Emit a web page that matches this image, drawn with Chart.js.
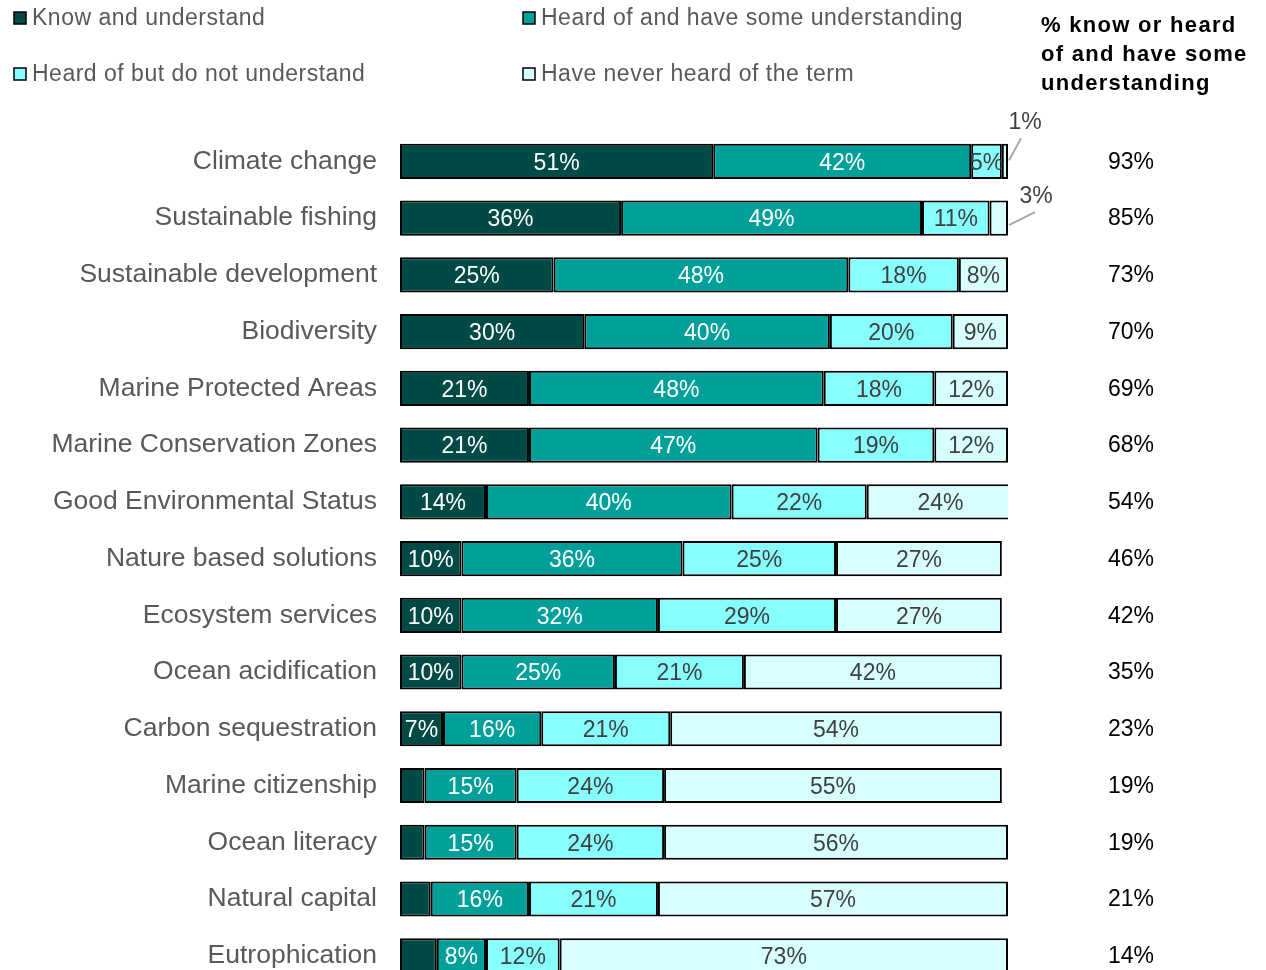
<!DOCTYPE html>
<html>
<head>
<meta charset="utf-8">
<script src="https://cdn.jsdelivr.net/npm/chart.js@4/dist/chart.umd.min.js"></script>
<style>
  html, body { margin: 0; padding: 0; background: #fff; overflow: hidden; }
</style>
</head>
<body>
<canvas id="awareness" width="1266" height="1015"></canvas>
<script>
const categories = [
    'Climate change', 'Sustainable fishing', 'Sustainable development', 'Biodiversity',
    'Marine Protected Areas', 'Marine Conservation Zones', 'Good Environmental Status',
    'Nature based solutions', 'Ecosystem services', 'Ocean acidification',
    'Carbon sequestration', 'Marine citizenship', 'Ocean literacy', 'Natural capital',
    'Eutrophication'
];
const knowUnderstand = [51, 36, 25, 30, 21, 21, 14, 10, 10, 10, 7, 4, 4, 5, 6];
const heardSome = [42, 49, 48, 40, 48, 47, 40, 36, 32, 25, 16, 15, 15, 16, 8];
const heardNotUnderstand = [5, 11, 18, 20, 18, 19, 22, 25, 29, 21, 21, 24, 24, 21, 12];
const neverHeard = [1, 3, 8, 9, 12, 12, 24, 27, 27, 42, 54, 55, 56, 57, 73];
const knowOrHeard = [93, 85, 73, 70, 69, 68, 54, 46, 42, 35, 23, 19, 19, 21, 14];

const seriesNames = [
    'Know and understand', 'Heard of and have some understanding',
    'Heard of but do not understand', 'Have never heard of the term'
];
const colours = ['#004a45', '#00a09a', '#88ffff', '#d8ffff'];
const labelColours = ['#ffffff', '#ffffff', '#404040', '#404040'];
const minLabel = [7, 5, 5, 5];

const FONT = '"Liberation Sans", Arial, sans-serif';

// segment values, legend, right-hand column and small callouts
const annotations = {
    id: 'annotations',
    afterDatasetsDraw(chart) {
        const ctx = chart.ctx;
        ctx.save();
        ctx.font = '23px ' + FONT;
        ctx.textAlign = 'center';
        ctx.textBaseline = 'middle';
        chart.data.datasets.forEach((ds, i) => {
            const meta = chart.getDatasetMeta(i);
            meta.data.forEach((bar, j) => {
                const v = ds.data[j];
                if (v < minLabel[i]) return;
                const x = (bar.base + bar.x) / 2;
                ctx.fillStyle = labelColours[i];
                ctx.fillText(v + '%', x, bar.y + 2);
            });
        });

        // callouts for the tiny "never heard" segments
        const last = chart.getDatasetMeta(3);
        const callouts = [[12, -22, 16, -38], [26, -13, 27, -28]];
        last.data.forEach((bar, j) => {
            const v = neverHeard[j];
            if (v >= 5) return;
            const c = callouts[j] || [14, -18, 16, -34];
            const sx = bar.x + 1, sy = bar.y - (j === 0 ? 1 : -7);
            ctx.strokeStyle = '#a6a6a6';
            ctx.lineWidth = 2;
            ctx.beginPath();
            ctx.moveTo(sx, sy);
            ctx.lineTo(sx + c[0], sy + c[1]);
            ctx.stroke();
            ctx.fillStyle = '#404040';
            ctx.fillText(v + '%', sx + c[2], sy + c[3]);
        });

        // right-hand totals
        const first = chart.getDatasetMeta(0);
        ctx.fillStyle = '#000000';
        first.data.forEach((bar, j) => {
            ctx.fillText(knowOrHeard[j] + '%', 1131, bar.y + 1);
        });

        ctx.textAlign = 'left';
        ctx.font = 'bold 22px ' + FONT;
        ctx.letterSpacing = '1.3px';
        ['% know or heard', 'of and have some', 'understanding'].forEach((t, k) => {
            ctx.fillText(t, 1041, 26 + k * 29);
        });

        // legend
        ctx.font = '23px ' + FONT;
        ctx.letterSpacing = '0.5px';
        const spots = [[14, 18], [523, 18], [14, 74], [523, 74]];
        seriesNames.forEach((name, i) => {
            const [x, y] = spots[i];
            ctx.fillStyle = colours[i];
            ctx.fillRect(x, y - 6, 12, 12);
            ctx.strokeStyle = '#000';
            ctx.lineWidth = 1.5;
            ctx.strokeRect(x, y - 6, 12, 12);
            ctx.fillStyle = '#595959';
            ctx.fillText(name, x + 18, y + 1);
        });
        ctx.restore();
    }
};

const datasets = [knowUnderstand, heardSome, heardNotUnderstand, neverHeard].map((d, i) => ({
    label: seriesNames[i],
    data: d,
    backgroundColor: colours[i],
    borderColor: '#000000',
    borderWidth: 2,
    borderSkipped: false,
    barPercentage: 0.62,
    categoryPercentage: 1.0
}));

new Chart(document.getElementById('awareness'), {
    type: 'bar',
    data: { labels: categories, datasets: datasets },
    options: {
        indexAxis: 'y',
        responsive: false,
        animation: false,
        layout: { padding: { left: 0, right: 258, top: 133, bottom: 19 } },
        plugins: {
            legend: { display: false },
            tooltip: { enabled: false }
        },
        scales: {
            x: {
                stacked: true,
                display: false,
                min: 0,
                max: 99
            },
            y: {
                stacked: true,
                grid: { display: false },
                border: { display: false },
                ticks: {
                    color: '#595959',
                    font: { family: FONT, size: 26.5 },
                    padding: 15
                },
                afterFit(scale) { scale.width = 400; }
            }
        }
    },
    plugins: [annotations]
});
</script>
</body>
</html>
